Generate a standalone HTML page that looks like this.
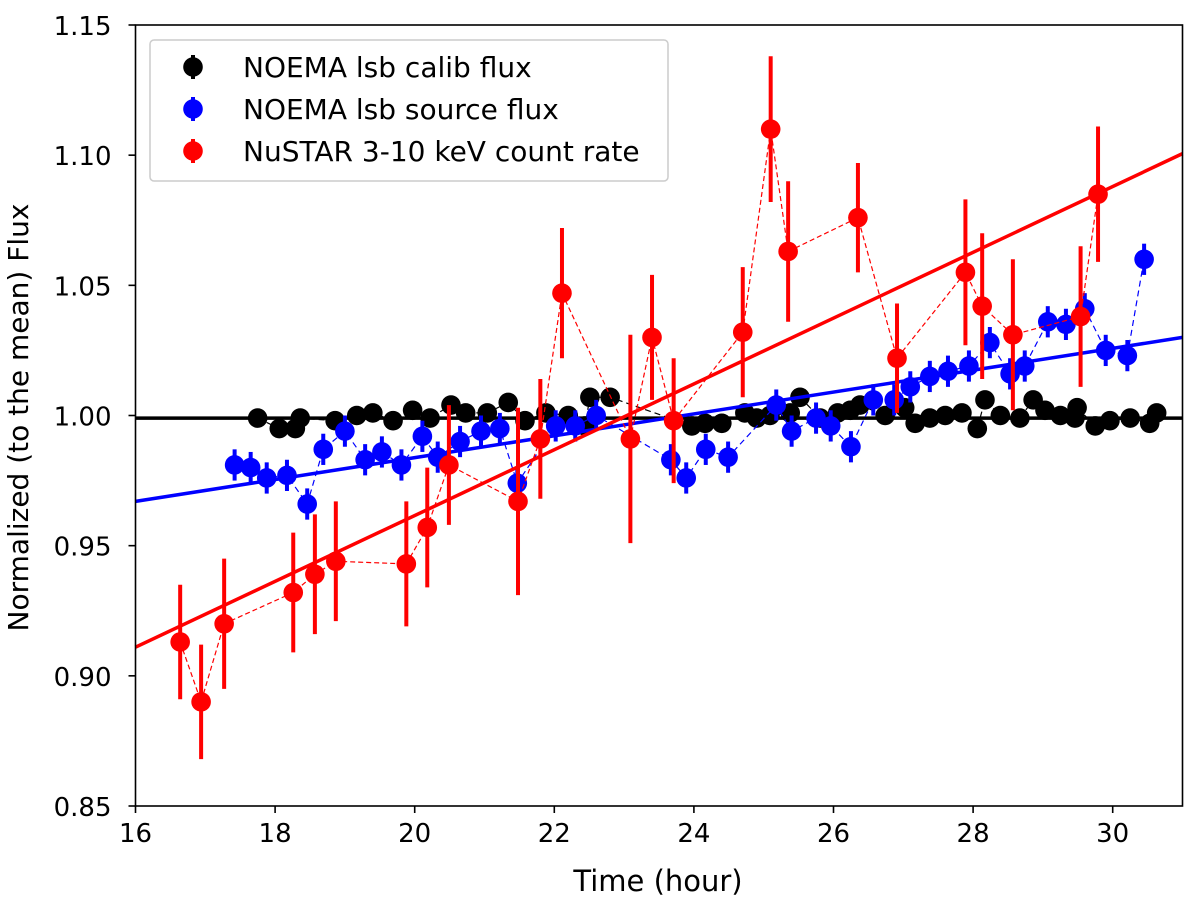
<!DOCTYPE html>
<html><head><meta charset="utf-8"><style>
body{margin:0;background:#fff;font-family:"DejaVu Sans","Liberation Sans",sans-serif;}
svg text{font-family:"DejaVu Sans","Liberation Sans",sans-serif;}
</style></head><body>
<svg id="chart" width="1200" height="901" xmlns="http://www.w3.org/2000/svg">
<g id="plot"></g>
<g id="axes"></g>
<g id="legend"></g>
</svg>
<script>
const xTicks=[16,18,20,22,24,26,28,30];
const yTicks=[0.85,0.90,0.95,1.00,1.05,1.10,1.15];
const blackT=[17.75,18.06,18.29,18.36,18.86,19.17,19.40,19.69,19.97,20.22,20.52,20.73,21.04,21.34,21.58,21.88,22.20,22.44,22.51,22.80,23.97,24.16,24.40,24.73,24.90,25.09,25.38,25.52,25.81,26.06,26.24,26.38,26.74,27.02,27.17,27.38,27.60,27.84,28.06,28.17,28.39,28.67,28.86,29.03,29.25,29.46,29.49,29.75,29.96,30.25,30.53,30.63];
const blackV=[0.999,0.995,0.995,0.999,0.998,1.000,1.001,0.998,1.002,0.999,1.004,1.001,1.001,1.005,0.998,1.001,1.000,0.996,1.007,1.007,0.996,0.997,0.997,1.001,0.999,1.000,1.001,1.007,0.999,1.001,1.002,1.004,1.000,1.003,0.997,0.999,1.000,1.001,0.995,1.006,1.000,0.999,1.006,1.002,1.000,0.999,1.003,0.996,0.998,0.999,0.997,1.001];
const blueT=[17.42,17.65,17.88,18.17,18.46,18.69,19.00,19.29,19.53,19.81,20.11,20.33,20.65,20.95,21.22,21.47,22.02,22.30,22.60,23.67,23.89,24.17,24.49,25.18,25.40,25.75,25.96,26.25,26.57,26.87,27.10,27.38,27.64,27.94,28.24,28.53,28.74,29.07,29.33,29.60,29.90,30.21,30.45];
const blueV=[0.981,0.980,0.976,0.977,0.966,0.987,0.994,0.983,0.986,0.981,0.992,0.984,0.990,0.994,0.995,0.974,0.996,0.996,1.000,0.983,0.976,0.987,0.984,1.004,0.994,0.999,0.996,0.988,1.006,1.006,1.011,1.015,1.017,1.019,1.028,1.016,1.019,1.036,1.035,1.041,1.025,1.023,1.060];
const redT=[16.64,16.94,17.27,18.26,18.57,18.87,19.88,20.18,20.49,21.48,21.80,22.11,23.09,23.40,23.71,24.70,25.10,25.35,26.35,26.91,27.89,28.13,28.57,29.54,29.79];
const redV=[0.913,0.890,0.920,0.932,0.939,0.944,0.943,0.957,0.981,0.967,0.991,1.047,0.991,1.030,0.998,1.032,1.110,1.063,1.076,1.022,1.055,1.042,1.031,1.038,1.085];
const redE=[0.022,0.022,0.025,0.023,0.023,0.023,0.024,0.023,0.023,0.036,0.023,0.025,0.040,0.024,0.024,0.025,0.028,0.027,0.021,0.021,0.028,0.028,0.029,0.027,0.026];
const blueErr=0.006, blackErr=0.002;
const fitBlack=[0.999,0.999], fitBlue=[0.967,1.030], fitRed=[0.911,1.1006];

const L=135.5,R=1182.5,T=25,B=806,x0=16,x1=31,y0=0.85,y1=1.15;
const X=t=>L+(t-x0)/(x1-x0)*(R-L);
const Y=v=>B-(v-y0)/(y1-y0)*(B-T);
const NS="http://www.w3.org/2000/svg";
function mk(tag,attrs,parent){const e=document.createElementNS(NS,tag);for(const k in attrs)e.setAttribute(k,attrs[k]);parent.appendChild(e);return e;}
const plot=document.getElementById('plot'),axes=document.getElementById('axes'),leg=document.getElementById('legend');

function series(ts,vs,es,color,name,dash){
  const g=mk('g',{},plot);
  
  
  const pl=mk('polyline',{points:ts.map((t,i)=>X(t)+','+Y(vs[i])).join(' '),fill:'none',stroke:color,'stroke-width':1.2,'stroke-dasharray':dash},g);
  
  
  ts.forEach((t,i)=>{
    const e=Array.isArray(es)?es[i]:es;
    const eb=mk('line',{x1:X(t),x2:X(t),y1:Y(vs[i]-e),y2:Y(vs[i]+e),stroke:color,'stroke-width':4},g);
    
    
    const c=mk('circle',{cx:X(t),cy:Y(vs[i]),r:9.8,fill:color},g);
    
    
  });
}
function fit(f,color,name){
  const l=mk('line',{x1:X(x0),x2:X(x1),y1:Y(f[0]),y2:Y(f[1]),stroke:color,'stroke-width':3.5},plot);
  
  
}
fit(fitBlack,'#000','calib-fit-line');
series(blackT,blackV,blackErr,'#000','calib','6,4');
series(blueT,blueV,blueErr,'#0000ff','source','6,4');
fit(fitBlue,'#0000ff','source-fit-line');
series(redT,redV,redE,'#ff0000','nustar','5,3');
fit(fitRed,'#ff0000','nustar-fit-line');

const fr=mk('rect',{x:L,y:T,width:R-L,height:B-T,fill:'none',stroke:'#000','stroke-width':1.6},axes);


xTicks.forEach(t=>{
  mk('line',{x1:X(t),x2:X(t),y1:B,y2:B+7,stroke:'#000','stroke-width':1.6},axes);
  const tx=mk('text',{x:X(t),y:B+36,'text-anchor':'middle','font-size':26},axes);
  tx.textContent=t;
  
  
});
yTicks.forEach(v=>{
  mk('line',{x1:L-7,x2:L,y1:Y(v),y2:Y(v),stroke:'#000','stroke-width':1.6},axes);
  const tx=mk('text',{x:L-24,y:Y(v)+10,'text-anchor':'end','font-size':26},axes);
  tx.textContent=v.toFixed(2);
  
  
});
const xt=mk('text',{x:(L+R)/2-1,y:891,'text-anchor':'middle','font-size':29},axes);
xt.textContent='Time (hour)';


const yt=mk('text',{x:0,y:0,'text-anchor':'middle','font-size':28,transform:'translate(28,'+((T+B)/2+2)+') rotate(-90)'},axes);
yt.textContent='Normalized (to the mean) Flux';



const lb=mk('rect',{x:150,y:40,width:518,height:141,rx:4,fill:'#fff','fill-opacity':0.85,stroke:'#ccc','stroke-width':1.5},leg);


[['#000','NOEMA lsb calib flux'],['#0000ff','NOEMA lsb source flux'],['#ff0000','NuSTAR 3-10 keV count rate']].forEach((d,i)=>{
  const y=67+i*42;
  const g=mk('g',{},leg);
  
  
  mk('line',{x1:193,x2:193,y1:y-12,y2:y+12,stroke:d[0],'stroke-width':4},g);
  mk('circle',{cx:193,cy:y,r:9.8,fill:d[0]},g);
  const tx=mk('text',{x:243,y:y+10,'font-size':28},g);
  tx.textContent=d[1];
});
</script>
</body></html>
